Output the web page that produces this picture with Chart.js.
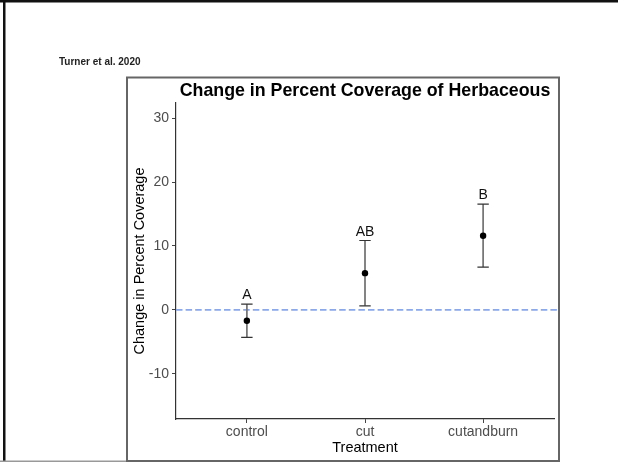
<!DOCTYPE html>
<html>
<head>
<meta charset="utf-8">
<script src="https://cdn.jsdelivr.net/npm/chart.js@4"></script>
<style>
  html, body { margin: 0; padding: 0; background: #fff; }
  #wrap { position: relative; width: 618px; height: 462px; }
  canvas { display: block; }
</style>
</head>
<body>
<div id="wrap"><canvas id="c" width="618" height="462"></canvas></div>
<script>
const categories = ["control", "cut", "cutandburn"];
const means = [-1.7, 5.75, 11.6];
const lowerBars = [-4.3, 0.63, 6.7];
const upperBars = [0.9, 10.86, 16.57];
const letters = ["A", "AB", "B"];
const yTicks = [-10, 0, 10, 20, 30];
const yMin = -17.1, yMax = 32.4;
const xMin = -0.6, xMax = 2.6;
const refLine = 0;
const chartTitle = "Change in Percent Coverage of Herbaceous";
const sourceNote = "Turner et al. 2020";
const xTitle = "Treatment";
const yTitle = "Change in Percent Coverage";

const FONT = "'Liberation Sans', Arial, sans-serif";

const decor = {
  id: 'decor',
  beforeDraw(chart) {
    const ctx = chart.ctx;
    ctx.save();
    ctx.fillStyle = '#fff';
    ctx.fillRect(0, 0, chart.width, chart.height);
    // outer frame
    ctx.fillStyle = '#111';
    ctx.fillRect(0, 0, 618, 2.5);
    ctx.fillRect(3, 0, 2.5, 462);
    ctx.fillStyle = '#999';
    ctx.fillRect(0, 460.5, 127, 1.5);
    // inner box
    ctx.strokeStyle = '#666';
    ctx.lineWidth = 2;
    ctx.strokeRect(127, 77.5, 432, 383.5);
    // source note
    ctx.fillStyle = '#222';
    ctx.font = "bold 10px " + FONT;
    ctx.textAlign = 'left';
    ctx.textBaseline = 'middle';
    ctx.fillText(sourceNote, 59, 62.5);
    // title
    const area = chart.chartArea;
    ctx.fillStyle = '#000';
    ctx.font = "bold 17.8px " + FONT;
    ctx.textAlign = 'center';
    ctx.fillText(chartTitle, (area.left + area.right) / 2, 91);
    ctx.restore();
  },
  beforeDatasetsDraw(chart) {
    const ctx = chart.ctx;
    const xs = chart.scales.x, ys = chart.scales.y;
    ctx.save();
    // reference dashed line
    const y0 = ys.getPixelForValue(refLine);
    ctx.strokeStyle = '#8aa8ea';
    ctx.lineWidth = 1.6;
    ctx.setLineDash([6.5, 3.1]);
    ctx.beginPath();
    ctx.moveTo(chart.chartArea.left, y0);
    ctx.lineTo(558, y0);
    ctx.stroke();
    ctx.setLineDash([]);
    // error bars
    categories.forEach((c, i) => {
      const x = xs.getPixelForValue(i);
      const yl = ys.getPixelForValue(lowerBars[i]);
      const yu = ys.getPixelForValue(upperBars[i]);
      ctx.strokeStyle = '#777';
      ctx.lineWidth = 1.8;
      ctx.beginPath();
      ctx.moveTo(x, yl);
      ctx.lineTo(x, yu);
      ctx.stroke();
      ctx.strokeStyle = '#333';
      ctx.lineWidth = 1.2;
      ctx.beginPath();
      ctx.moveTo(x - 5.7, yl); ctx.lineTo(x + 5.7, yl);
      ctx.moveTo(x - 5.7, yu); ctx.lineTo(x + 5.7, yu);
      ctx.stroke();
    });
    ctx.restore();
  },
  afterDatasetsDraw(chart) {
    const ctx = chart.ctx;
    const xs = chart.scales.x, ys = chart.scales.y;
    ctx.save();
    ctx.fillStyle = '#111';
    ctx.font = "14px " + FONT;
    ctx.textAlign = 'center';
    ctx.textBaseline = 'middle';
    categories.forEach((c, i) => {
      const x = xs.getPixelForValue(i);
      const yu = ys.getPixelForValue(upperBars[i]);
      ctx.fillText(letters[i], x, yu - 8.8);
    });
    ctx.restore();
  }
};

new Chart(document.getElementById('c'), {
  type: 'scatter',
  data: {
    datasets: [{
      data: categories.map((c, i) => ({ x: i, y: means[i] })),
      pointRadius: 3.2,
      pointBackgroundColor: '#000',
      pointBorderColor: '#000',
      pointBorderWidth: 0
    }]
  },
  options: {
    responsive: false,
    animation: false,
    devicePixelRatio: 1,
    layout: { padding: { left: 127, top: 103, right: 64, bottom: 0 } },
    plugins: { legend: { display: false }, tooltip: { enabled: false }, title: { display: false } },
    scales: {
      x: {
        type: 'linear', position: 'bottom', min: xMin, max: xMax,
        afterBuildTicks(scale) { scale.ticks = categories.map((c, i) => ({ value: i })); },
        afterFit(scale) { scale.height = 43; },
        ticks: {
          callback: (v) => categories[v],
          color: '#4d4d4d', font: { family: FONT, size: 14 }, padding: 1, maxRotation: 0, autoSkip: false
        },
        grid: { display: true, drawOnChartArea: false, drawTicks: true, tickLength: 4, color: '#444' },
        border: { display: true, color: '#333', width: 1.2 },
        title: { display: true, text: xTitle, color: '#000', font: { family: FONT, size: 14.5 }, padding: { top: 0, bottom: 5 } }
      },
      y: {
        type: 'linear', position: 'left', min: yMin, max: yMax,
        afterBuildTicks(scale) { scale.ticks = yTicks.map(v => ({ value: v })); },
        afterFit(scale) { scale.width = 49; },
        ticks: { color: '#4d4d4d', font: { family: FONT, size: 14 }, padding: 3, autoSkip: false },
        grid: { display: true, drawOnChartArea: false, drawTicks: true, tickLength: 4, color: '#444' },
        border: { display: true, color: '#333', width: 1.2 },
        title: { display: true, text: yTitle, color: '#000', font: { family: FONT, size: 14.5 }, padding: { top: 4.3, bottom: 0 } }
      }
    }
  },
  plugins: [decor]
});
</script>
</body>
</html>
